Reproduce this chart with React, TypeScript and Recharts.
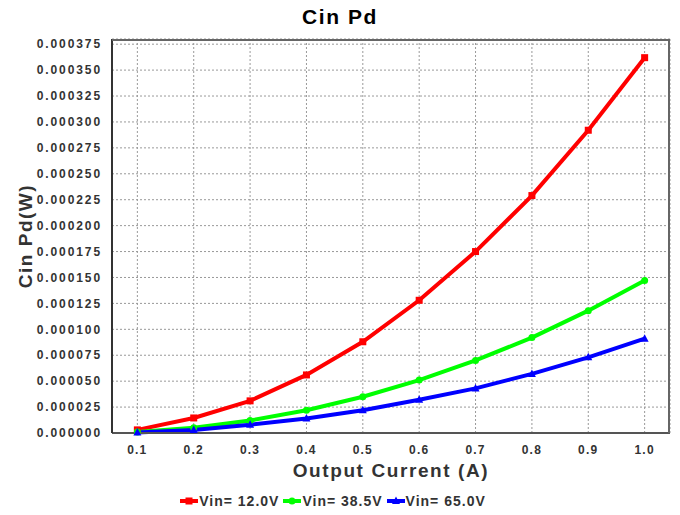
import { LineChart, Line, XAxis, YAxis, CartesianGrid, Legend } from 'recharts';

const current = [0.1, 0.2, 0.3, 0.4, 0.5, 0.6, 0.7, 0.8, 0.9, 1.0];
const vin12 = [0.000003, 0.0000145, 0.000031, 0.000056, 0.000088, 0.000128, 0.000175, 0.000229, 0.000292, 0.000362];
const vin385 = [0.000001, 0.000005, 0.000012, 0.000022, 0.000035, 0.000051, 0.00007, 0.000092, 0.000118, 0.000147];
const vin65 = [0.0000005, 0.000003, 0.000008, 0.000014, 0.000022, 0.000032, 0.000043, 0.000057, 0.000073, 0.000091];
const xTicks = [0.1, 0.2, 0.3, 0.4, 0.5, 0.6, 0.7, 0.8, 0.9, 1.0];
const yTicks = [0, 0.000025, 0.00005, 0.000075, 0.0001, 0.000125, 0.00015, 0.000175, 0.0002, 0.000225, 0.00025, 0.000275, 0.0003, 0.000325, 0.00035, 0.000375];

const series = [
  { key: 'v12', name: 'Vin= 12.0V', color: '#ff0000', shape: 'square' },
  { key: 'v385', name: 'Vin= 38.5V', color: '#00ff00', shape: 'circle' },
  { key: 'v65', name: 'Vin= 65.0V', color: '#0000ff', shape: 'triangle' },
];

const data = current.map((c, i) => ({ x: c, v12: vin12[i], v385: vin385[i], v65: vin65[i] }));

const FONT = 'Arial, "Liberation Sans", sans-serif';

function Marker({ cx, cy, shape, color }: any) {
  if (cx == null || cy == null) return null;
  if (shape === 'square') return <rect x={cx - 3.5} y={cy - 3.5} width={7} height={7} fill={color} />;
  if (shape === 'circle') return <circle cx={cx} cy={cy} r={3.5} fill={color} />;
  return <polygon points={`${cx},${cy - 4.5} ${cx + 4},${cy + 3} ${cx - 4},${cy + 3}`} fill={color} />;
}

function LegendContent() {
  return (
    <div style={{ display: 'flex', justifyContent: 'center', fontFamily: FONT, fontWeight: 'bold', fontSize: 14, color: '#333', letterSpacing: 1 }}>
      {series.map((s) => (
        <span key={s.key} style={{ display: 'flex', alignItems: 'center', marginRight: 4 }}>
          <svg width={18} height={10} style={{ marginRight: 1 }}>
            <line x1={0} y1={5} x2={18} y2={5} stroke={s.color} strokeWidth={4} />
            <Marker cx={9} cy={5} shape={s.shape} color={s.color} />
          </svg>
          {s.name}
        </span>
      ))}
    </div>
  );
}

export default function App() {
  return (
    <div style={{ position: 'absolute', left: 0, top: 0, width: 680, height: 515, background: '#fff' }}>
      <div style={{ position: 'absolute', left: 0, top: 5, width: 680, textAlign: 'center', fontFamily: FONT, fontWeight: 'bold', fontSize: 21, letterSpacing: 1.6, color: '#000' }}>
        Cin Pd
      </div>
      <LineChart width={680} height={515} data={data} margin={{ top: 39, right: 10, left: 0, bottom: 0 }}>
        <CartesianGrid stroke="#999" strokeDasharray="2 2" />
        <XAxis
          dataKey="x"
          type="number"
          domain={[0.055, 1.045]}
          ticks={xTicks}
          tickFormatter={(v) => v.toFixed(1)}
          height={60}
          tickMargin={6}
          tick={{ fill: '#333', fontSize: 12, fontWeight: 'bold', fontFamily: FONT, letterSpacing: 1.2 }}
          tickLine={false}
          axisLine={{ stroke: '#555', strokeWidth: 2 }}
          label={{ value: 'Output Current (A)', position: 'insideBottom', offset: 16, fill: '#333', fontSize: 19, fontWeight: 'bold', fontFamily: FONT, letterSpacing: 1.6 }}
        />
        <YAxis
          type="number"
          domain={[0, 0.00038]}
          ticks={yTicks}
          tickFormatter={(v) => v.toFixed(6)}
          width={112}
          interval={0}
          tickMargin={4}
          tick={{ fill: '#333', fontSize: 12, fontWeight: 'bold', fontFamily: FONT, letterSpacing: 1.9 }}
          tickLine={false}
          axisLine={{ stroke: '#333', strokeWidth: 2 }}
          label={{ value: 'Cin Pd(W)', angle: -90, position: 'insideLeft', offset: 25, fill: '#333', fontSize: 19, fontWeight: 'bold', fontFamily: FONT, letterSpacing: 1.5, style: { textAnchor: 'middle' } }}
        />
        <Legend verticalAlign="bottom" height={22} content={<LegendContent />} />
        {series.map((s) => (
          <Line
            key={s.key}
            dataKey={s.key}
            name={s.name}
            stroke={s.color}
            strokeWidth={4}
            isAnimationActive={false}
            dot={(p: any) => <Marker key={`${s.key}-${p.index}`} cx={p.cx} cy={p.cy} shape={s.shape} color={s.color} />}
            activeDot={false}
          />
        ))}
      </LineChart>
      <div style={{ position: 'absolute', left: 112, top: 39, width: 558, height: 394, borderTop: '2px solid #666', borderRight: '2px solid #666', boxSizing: 'border-box', pointerEvents: 'none' }} />
    </div>
  );
}
